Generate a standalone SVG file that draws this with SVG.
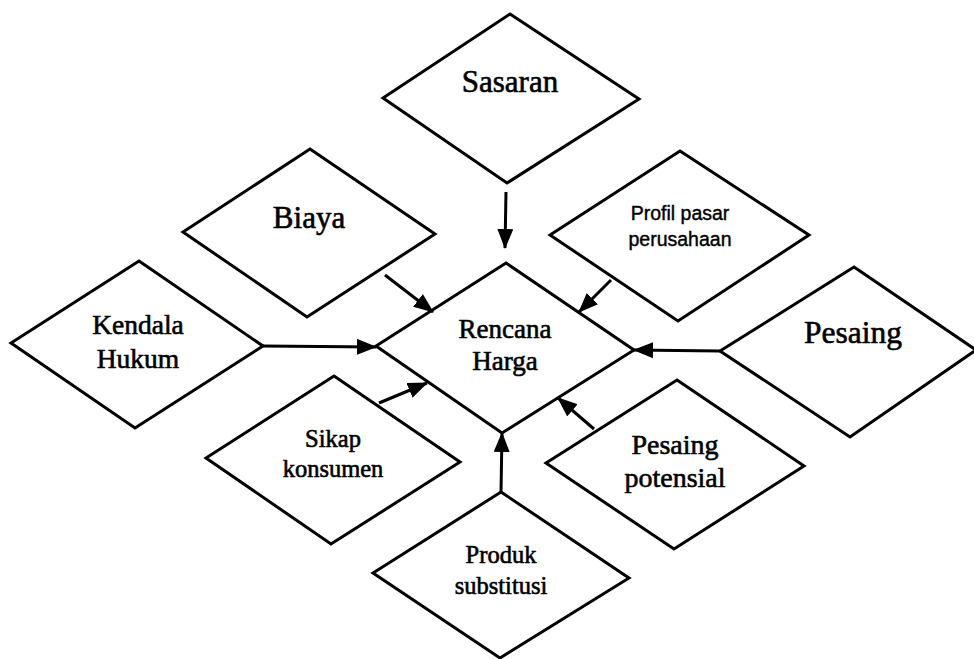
<svg xmlns="http://www.w3.org/2000/svg" width="974" height="659" viewBox="0 0 974 659">
<defs>
<marker id="ah" markerUnits="userSpaceOnUse" markerWidth="20" markerHeight="16" refX="19" refY="8" orient="auto">
<path d="M0,0 L20,8 L0,16 Z" fill="#000"/>
</marker>
</defs>
<style>
.d{fill:#fff;stroke:#000;stroke-width:3;stroke-linejoin:miter}
.c{stroke:#000;stroke-width:3;fill:none}
text{font-family:"Liberation Serif","Times New Roman",serif;fill:#000;stroke:#000;stroke-width:0.6;text-anchor:middle}
.s{font-family:"Liberation Sans",Arial,sans-serif;stroke-width:0.4}
</style>
<rect width="974" height="659" fill="#fff"/>
<g id="node-sasaran"><polygon class="d" points="510,14 639,99 507,183 383,98"/><text x="510" y="92" font-size="31">Sasaran</text></g>
<g id="node-biaya"><polygon class="d" points="310,149 435,234 307,317 183,232"/><text x="309" y="228" font-size="31">Biaya</text></g>
<g id="node-profil"><polygon class="d" points="680,151 809,235 678,321 550,235"/><text class="s" x="680" y="220" font-size="19.5">Profil pasar</text><text class="s" x="680" y="246" font-size="19.5">perusahaan</text></g>
<g id="node-kendala"><polygon class="d" points="139,261 263,346 135,428 11,343"/><text x="138" y="334" font-size="27.5">Kendala</text><text x="138" y="368" font-size="27.5">Hukum</text></g>
<g id="node-rencana"><polygon class="d" points="506,263 634,350 502,433 376,346"/><text x="505" y="338" font-size="27">Rencana</text><text x="505" y="370" font-size="27">Harga</text></g>
<g id="node-pesaing"><polygon class="d" points="854,267 976,350 850,437 720,351"/><text x="853" y="343" font-size="31.5">Pesaing</text></g>
<g id="node-sikap"><polygon class="d" points="334,376 460,462 331,544 206,458"/><text x="333" y="447" font-size="24.5">Sikap</text><text x="333" y="477" font-size="24.5">konsumen</text></g>
<g id="node-pesaing-potensial"><polygon class="d" points="677,380 804,466 674,549 546,463"/><text x="675" y="454" font-size="28">Pesaing</text><text x="675" y="487" font-size="28">potensial</text></g>
<g id="node-produk"><polygon class="d" points="501,492 629,578 500,658 373,573"/><text x="501" y="563" font-size="24.5">Produk</text><text x="501" y="594" font-size="24.5">substitusi</text></g>
<g id="connectors">
<line class="c" x1="506" y1="192" x2="505" y2="248" marker-end="url(#ah)"/>
<line class="c" x1="385" y1="275" x2="433" y2="312" marker-end="url(#ah)"/>
<line class="c" x1="611" y1="280" x2="579" y2="312" marker-end="url(#ah)"/>
<line class="c" x1="263" y1="346" x2="376" y2="347" marker-end="url(#ah)"/>
<line class="c" x1="720" y1="351" x2="634" y2="350" marker-end="url(#ah)"/>
<line class="c" x1="379" y1="403" x2="427" y2="383" marker-end="url(#ah)"/>
<line class="c" x1="594" y1="429" x2="558" y2="398" marker-end="url(#ah)"/>
<line class="c" x1="501" y1="492" x2="502" y2="433" marker-end="url(#ah)"/>
</g>
</svg>
